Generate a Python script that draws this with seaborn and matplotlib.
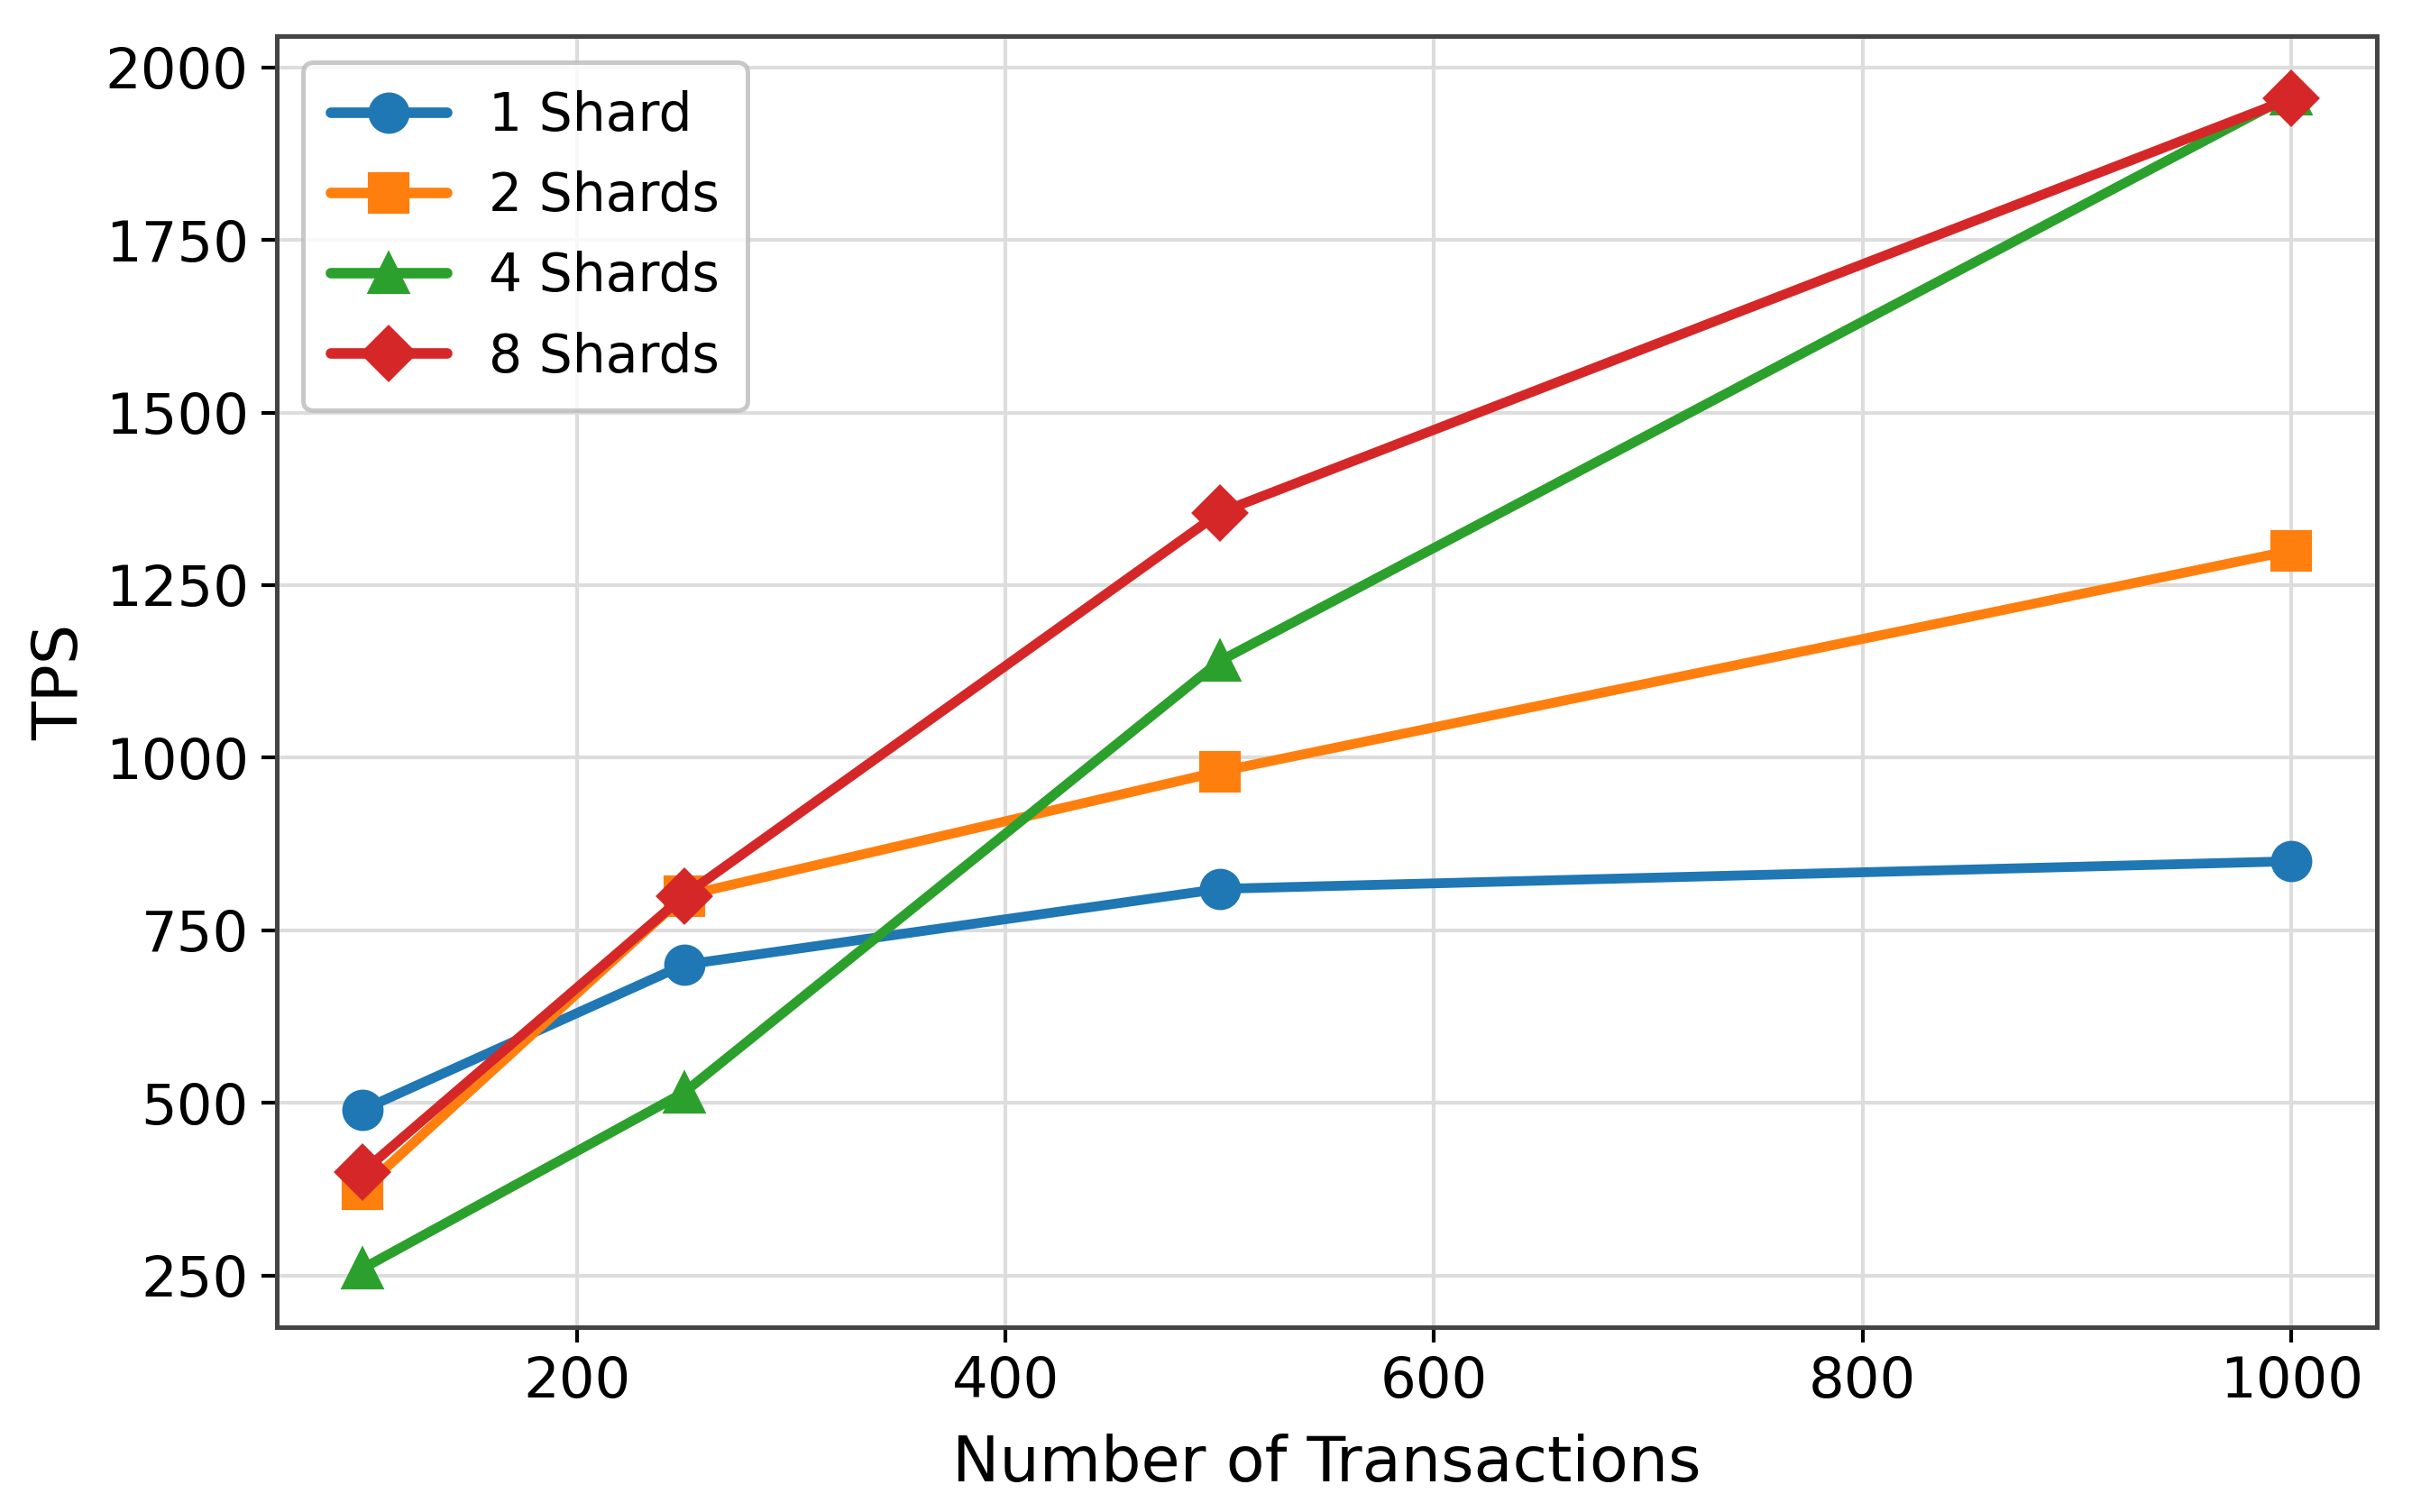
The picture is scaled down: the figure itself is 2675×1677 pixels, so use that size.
import seaborn as sns
import numpy as np
import pandas as pd
import matplotlib.pyplot as plt

transactions = [100, 250, 500, 1000]
shard_labels = ["1 Shard", "2 Shards", "4 Shards", "8 Shards"]
tps_1 = [490, 700, 810, 850]
tps_2 = [375, 800, 980, 1300]
tps_4 = [260, 515, 1140, 1960]
tps_8 = [400, 800, 1355, 1955]

rows = []
for label, vals in zip(shard_labels, [tps_1, tps_2, tps_4, tps_8]):
    for t, v in zip(transactions, vals):
        rows.append({"Transactions": t, "TPS": v, "Shards": label})
df = pd.DataFrame(rows)

sns.set_theme(style="whitegrid", rc={
    "axes.edgecolor": "#444444",
    "axes.linewidth": 1.2,
    "axes.labelcolor": "black",
    "text.color": "black",
    "grid.color": "#dddddd",
    "grid.linewidth": 1.0,
    "xtick.bottom": True,
    "ytick.left": True,
    "xtick.color": "black",
    "ytick.color": "black",
    "xtick.major.size": 4,
    "ytick.major.size": 4,
    "xtick.major.width": 1.0,
    "ytick.major.width": 1.0,
})
plt.rcParams['font.family'] = ['DejaVu Sans']

fig, ax = plt.subplots(figsize=(2675 / 300, 1677 / 300), dpi=300)
fig.subplots_adjust(left=0.1148, right=0.9855, top=0.976, bottom=0.1222)

palette = ["#1f77b4", "#ff7f0e", "#2ca02c", "#d62728"]
sns.lineplot(data=df, x="Transactions", y="TPS", hue="Shards", style="Shards",
             markers=["o", "s", "^", "D"], dashes=False, palette=palette,
             linewidth=2.6, markersize=10, markeredgewidth=1,
             markeredgecolor=None, ax=ax)

ax.set_xlim(60, 1040)
ax.set_xlabel("Number of Transactions", fontsize=16.8, labelpad=6.5)
ax.set_ylabel("TPS", fontsize=16.8)
ax.tick_params(labelsize=15)

handles, labels = ax.get_legend_handles_labels()
leg = ax.legend(handles, labels, loc="upper left", fontsize=14, frameon=True,
                borderpad=0.53, handlelength=2.2, labelspacing=0.55)
leg.get_frame().set_edgecolor("#bbbbbb")
leg.get_frame().set_linewidth(1.2)
for h in leg.legend_handles:
    h.set_linewidth(2.8)
    h.set_markersize(10)
    h.set_markeredgecolor(h.get_color())

fig.savefig("out.png", dpi=300)
